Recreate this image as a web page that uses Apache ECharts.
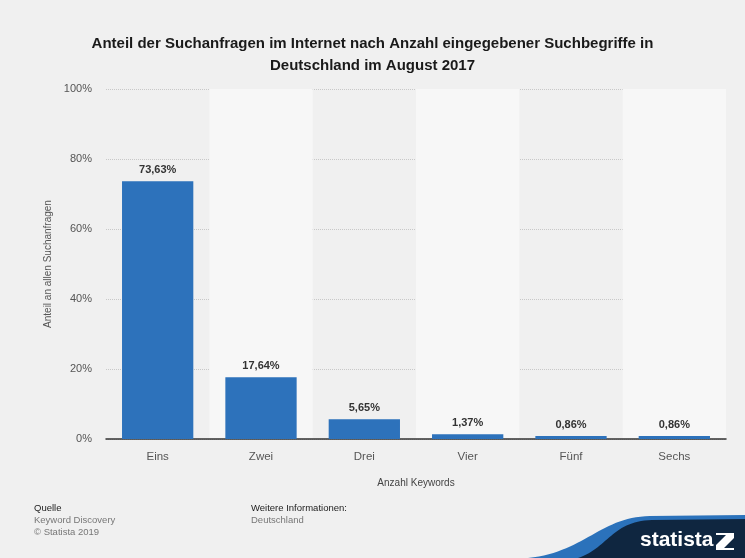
<!DOCTYPE html>
<html><head><meta charset="utf-8">
<script src="https://cdn.jsdelivr.net/npm/echarts@6/dist/echarts.min.js"></script>
<style>html,body{margin:0;padding:0;background:#f0f0f0;}#c{width:745px;height:558px;}</style>
</head><body><div id="c"></div>
<script>
const categories = ['Eins', 'Zwei', 'Drei', 'Vier', 'Fünf', 'Sechs'];
const values = [73.63, 17.64, 5.65, 1.37, 0.86, 0.86];
const yTicks = [0, 20, 40, 60, 80, 100];

function swoosh(p0, c1, c2, p3, tail) {
  const pts = [];
  for (let i = 0; i <= 30; i++) {
    const t = i / 30, u = 1 - t;
    pts.push([
      u*u*u*p0[0] + 3*u*u*t*c1[0] + 3*u*t*t*c2[0] + t*t*t*p3[0],
      u*u*u*p0[1] + 3*u*u*t*c1[1] + 3*u*t*t*c2[1] + t*t*t*p3[1]
    ]);
  }
  return pts.concat(tail);
}

const chart = echarts.init(document.getElementById('c'), null, {renderer: 'canvas'});
const FONT = '"Liberation Sans", Arial, sans-serif';
chart.setOption({
  backgroundColor: '#f0f0f0',
  animation: false,
  title: {
    text: 'Anteil der Suchanfragen im Internet nach Anzahl eingegebener Suchbegriffe in\nDeutschland im August 2017',
    left: 'center', top: 28,
    textStyle: {fontFamily: FONT, fontSize: 15, fontWeight: 'bold', color: '#1a1a1a', lineHeight: 22}
  },
  grid: {left: 106, right: 19, top: 89, bottom: 119},
  xAxis: {
    type: 'category', data: categories,
    name: 'Anzahl Keywords', nameLocation: 'middle', nameGap: 39,
    nameTextStyle: {fontFamily: FONT, fontSize: 10, color: '#444'},
    axisLine: {lineStyle: {color: '#333', width: 1.5}},
    axisTick: {show: false},
    axisLabel: {fontFamily: FONT, fontSize: 11.5, color: '#555', margin: 12},
    splitArea: {show: true, areaStyle: {color: ['rgba(0,0,0,0)', '#f7f7f7']}}
  },
  yAxis: {
    type: 'value', min: yTicks[0], max: yTicks[yTicks.length - 1], interval: 20,
    name: 'Anteil an allen Suchanfragen', nameLocation: 'middle', nameGap: 51,
    nameTextStyle: {fontFamily: FONT, fontSize: 10, color: '#555'},
    axisLine: {show: false}, axisTick: {show: false},
    axisLabel: {fontFamily: FONT, fontSize: 11, color: '#555', margin: 14, formatter: v => v + '%'},
    splitLine: {lineStyle: {color: '#c8c8c8', type: 'dotted'}}
  },
  series: [{
    type: 'bar', data: values, barWidth: '69%',
    itemStyle: {color: '#2d72bb'},
    label: {show: true, position: 'top', distance: 6, fontFamily: FONT, fontSize: 11, fontWeight: 'bold', color: '#333',
      formatter: p => p.value.toFixed(2).replace('.', ',') + '%'}
  }],
  graphic: [
    {type: 'text', x: 34, y: 503, style: {text: 'Quelle', font: '9.5px ' + FONT, fill: '#222'}},
    {type: 'text', x: 34, y: 515, style: {text: 'Keyword Discovery', font: '9.5px ' + FONT, fill: '#777'}},
    {type: 'text', x: 34, y: 527, style: {text: '© Statista 2019', font: '9.5px ' + FONT, fill: '#777'}},
    {type: 'text', x: 251, y: 503, style: {text: 'Weitere Informationen:', font: '9.5px ' + FONT, fill: '#222'}},
    {type: 'text', x: 251, y: 515, style: {text: 'Deutschland', font: '9.5px ' + FONT, fill: '#777'}},
    {type: 'polygon', shape: {points: swoosh([528,558],[585,552],[600,517],[650,516],[[745,515],[745,558]])}, style: {fill: '#2b72bb'}},
    {type: 'polygon', shape: {points: swoosh([578,558],[608,548],[612,521],[652,520],[[745,519],[745,558]])}, style: {fill: '#0f2640'}},
    {type: 'text', x: 640, y: 530, style: {text: 'statista', font: 'bold 21px "Liberation Sans Narrow", ' + FONT, fill: '#ffffff'}},
    {type: 'polygon', shape: {points: [[716,533],[734,533],[734,538],[724,548],[734,548],[734,550],[716,550],[716,545],[726,535],[716,535]]}, style: {fill: '#ffffff'}}
  ]
});
</script></body></html>
